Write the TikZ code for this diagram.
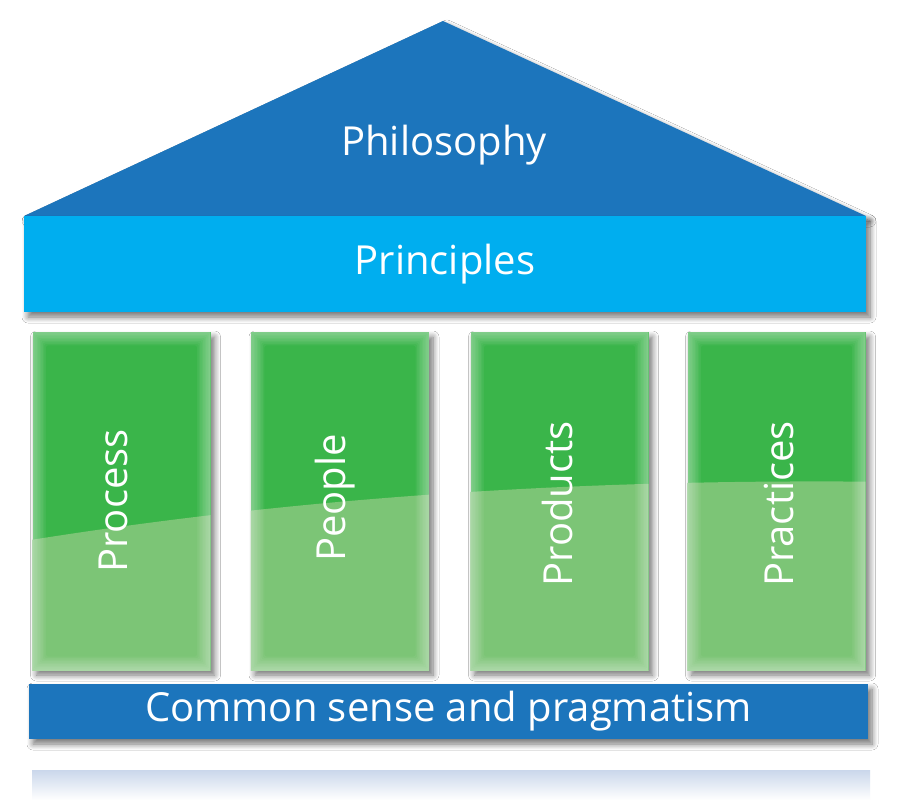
\documentclass[tikz,border=0pt]{standalone}
\usepackage{fontspec}
\setmainfont{Open Sans}
\usetikzlibrary{shadows.blur}
\definecolor{roofblue}{HTML}{1C75BC}
\definecolor{barcyan}{HTML}{00AEEF}
\definecolor{pillardark}{HTML}{3AB54A}
\definecolor{pillarlight}{HTML}{7CC576}
\definecolor{reflblue}{HTML}{CAD7EB}

\begin{document}
\begin{tikzpicture}[x=1pt, y=-1pt,
    shadebox/.style={blur shadow={shadow xshift=4pt, shadow yshift=-5pt, shadow blur radius=6pt, shadow blur steps=8, shadow opacity=55}},
    bigtext/.style={text=white, font=\fontsize{40}{48}\selectfont},
    bar/.style={shadebox, bigtext, inner sep=0pt},
    pillar/.style={shadebox, fill=pillardark, inner sep=0pt, minimum width=178pt, minimum height=338pt},
    pillartext/.style={bigtext, rotate=90, text height=30pt, text depth=10pt, inner sep=0pt}]
    \useasboundingbox (0,0) rectangle (900,800);
    \fill[white] (0,0) rectangle (900,800);

    \shade[top color=reflblue, bottom color=white] (32,770) rectangle (870,800);

    \fill[roofblue, shadebox] (24,216) -- (443,21) -- (866,216) -- cycle;
    \node[bigtext] (philo) at (444,145) {Philosophy};
    \node[bar, fill=barcyan, minimum width=842pt, minimum height=96pt] (princ) at (445,264) {Principles};

    \foreach \cx/\tx/\ty/\lbl/\n in {121.5/117/501/Process/1, 340/335/498/People/2, 559.5/562/504/Products/3, 776.5/783/504/Practices/4}{
        \node[pillar] (p\n) at (\cx,501) {};
        \begin{scope}
            \clip (p\n.south west) rectangle (p\n.north east);
            \fill[pillarlight] (0,545) .. controls (300,495) and (600,478) .. (900,482) -- (900,700) -- (0,700) -- cycle;
            \foreach \w in {3,6,...,27}
                \draw[white, opacity=.05, line width=\w pt, rounded corners={\w*0.6pt}] (p\n.south west) rectangle (p\n.north east);
        \end{scope}
        \node[pillartext] (t\n) at (\tx,\ty) {\lbl};
    }

    \node[bar, fill=roofblue, minimum width=839pt, minimum height=55pt] (base) at (448.5,711.5) {Common sense and pragmatism};
\end{tikzpicture}
\end{document}
